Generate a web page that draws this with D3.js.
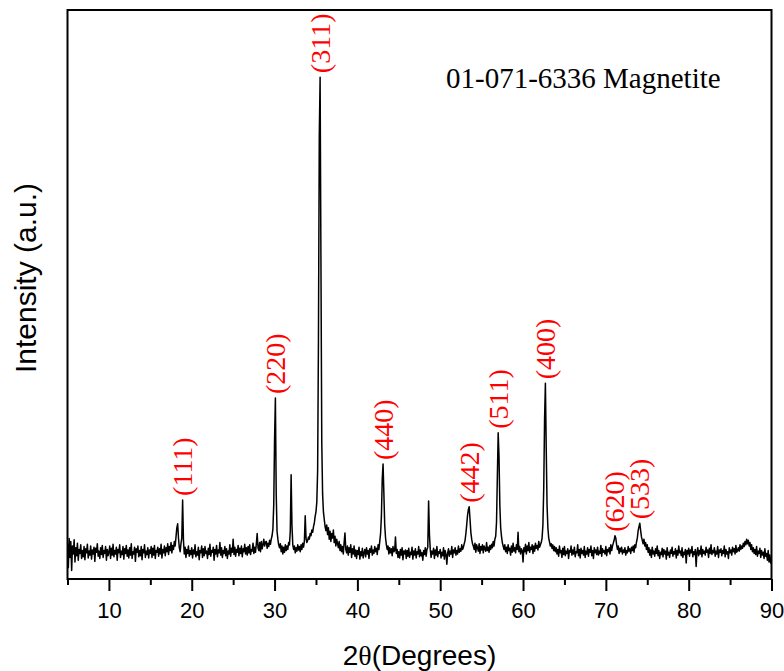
<!DOCTYPE html>
<html>
<head>
<meta charset="utf-8">
<script src="https://cdn.jsdelivr.net/npm/d3@7"></script>
<style>
  html, body { margin: 0; padding: 0; background: #fff; }
  svg { display: block; }
</style>
</head>
<body>
<svg id="chart" width="784" height="671"></svg>
<script>
// XRD scan, 0.1° step, split in 5° blocks (counts, arbitrary units)
const scanStep = 0.1;
const seg05 = [62,20,71,38,66,15,58,44,69,30, 55,41,63,33,52,45,60,36,50,39, 57,34,53,46,61,37,49,42,58,35, 51,44,56,31,54,47,62,40,49,36, 55,43,59,38,50,45,57,33,52,41];
const seg10 = [47,58,36,54,42,61,39,50,44,56, 33,52,46,60,38,49,43,57,35,53, 45,59,40,51,37,55,42,62,36,48, 44,56,31,53,47,58,39,50,41,57, 34,52,46,60,38,49,43,55,37,51];
const seg15 = [45,57,38,54,42,59,36,50,47,56, 40,53,44,61,37,52,46,58,41,55, 48,62,43,57,50,64,46,59,52,66, 58,74,90,97,72,55,48,62,72,139, 68,44,56,38,52,45,58,40,50,43];
const seg20 = [55,37,51,44,60,39,48,42,56,34, 50,46,58,38,53,41,57,45,49,36, 54,43,61,40,50,47,56,33,52,44, 59,39,51,46,64,42,55,38,50,45, 57,41,53,36,49,44,60,40,54,47];
const seg25 = [70,43,56,40,52,47,59,41,54,45, 58,39,53,48,61,44,55,42,57,46, 60,43,52,49,63,45,56,47,62,80, 55,50,64,48,66,53,60,70,58,65, 66,54,63,57,68,61,70,76,88,130];
const seg30 = [245,318,150,84,70,60,55,62,48,58, 44,56,47,60,50,58,52,64,60,85, 183,95,60,52,58,46,55,49,60,51, 57,48,60,52,63,56,66,111,72,64, 68,74,70,80,76,86,82,92,98,110];
const seg35 = [118,135,190,420,780,882,560,240,150,118, 105,92,85,95,78,90,70,84,66,80, 72,86,64,75,58,70,62,55,66,50, 60,48,57,44,64,81,52,46,58,42, 55,47,60,38,53,44,58,40,51,36];
const seg40 = [50,43,56,35,48,41,54,37,46,52, 39,55,44,50,36,53,47,58,42,51, 45,57,48,54,43,60,52,66,80,110, 175,202,150,95,72,60,52,58,44,55, 46,53,41,57,48,50,74,45,52,38];
const seg45 = [48,37,52,42,55,34,49,44,51,36, 50,40,54,38,47,43,56,35,49,42, 53,37,48,44,57,39,51,41,46,33, 50,43,55,40,52,56,137,78,52,38, 49,44,54,36,51,42,57,39,48,45];
const seg50 = [52,37,47,41,55,35,50,43,26,46, 53,40,49,44,57,38,51,46,55,42, 50,44,58,47,53,49,60,52,56,62, 68,80,95,112,122,127,105,82,70,62, 58,52,63,47,60,55,49,62,45,57];
const seg55 = [51,60,46,58,53,49,64,50,56,47, 59,52,61,55,66,58,70,75,100,180, 257,215,130,90,75,64,58,52,60,48, 56,45,60,50,54,42,58,47,63,49, 55,46,60,52,82,48,57,44,53,50];
const seg60 = [30,55,48,61,44,58,50,64,47,56, 52,60,45,58,49,63,54,59,51,66, 56,60,64,72,95,160,280,344,230,130, 90,72,65,58,62,54,60,50,57,48, 55,44,52,40,58,46,50,38,54,43];
const seg65 = [57,41,49,45,53,36,50,47,58,42, 51,44,56,39,48,46,60,41,52,37, 54,45,50,42,57,38,49,44,55,40, 52,47,58,41,50,36,55,46,51,43, 56,42,49,45,59,40,53,47,50,44];
const seg70 = [57,41,52,48,55,44,60,50,58,63, 68,76,72,60,52,58,45,54,48,56, 44,51,47,55,42,50,46,57,49,53, 45,56,50,58,47,60,55,65,72,85, 92,98,85,74,68,62,70,58,64,52];
const seg75 = [60,47,55,42,51,38,56,44,49,40, 53,45,58,41,50,36,47,43,54,39, 52,44,49,35,55,42,47,38,51,45, 56,40,48,44,53,37,50,42,58,46, 49,41,55,38,47,43,52,28,50,44];
const seg80 = [54,40,51,46,57,39,48,43,52,22, 47,55,41,50,44,58,39,52,45,49, 42,56,47,51,38,54,45,60,43,50, 46,55,40,49,44,57,38,51,47,53, 41,50,45,58,39,52,44,48,36,55];
const seg85 = [46,51,42,56,48,53,44,59,47,50, 55,49,60,52,58,54,63,57,66,60, 70,62,68,58,64,52,60,48,55,45, 52,43,57,40,49,45,54,38,50,42, 47,36,53,40,45,33,50,30,42,28, 35];

const segmentStarts = [5, 10, 15, 20, 25, 30, 35, 40, 45, 50, 55, 60, 65, 70, 75, 80, 85];
const segments = [seg05, seg10, seg15, seg20, seg25, seg30, seg35, seg40, seg45, seg50, seg55, seg60, seg65, seg70, seg75, seg80, seg85];

// Miller indices and their reflection angles (2θ, degrees)
const peakLabels = ["(111)", "(220)", "(311)", "(440)", "(442)", "(511)", "(400)", "(620)", "(533)"];
const peakAngles = [18.9, 30.1, 35.5, 43.1, 53.5, 57.0, 62.7, 71.1, 74.1];

const xMajorTicks = [10, 20, 30, 40, 50, 60, 70, 80, 90];
const xMinorTicks = [5, 15, 25, 35, 45, 55, 65, 75, 85];
const phaseNote = "01-071-6336 Magnetite";

// ---------------------------------------------------------------
const points = segments.flatMap((vals, k) =>
  vals.map((v, i) => ({ t: +(segmentStarts[k] + i * scanStep).toFixed(2), v }))
);

const plot = { left: 67.5, right: 771.5, top: 10, bottom: 579 };
const x = d3.scaleLinear().domain([5, 90]).range([plot.left, plot.right]);
const y = d3.scaleLinear().domain([0, 1000]).range([plot.bottom, plot.top]);

const svg = d3.select("#chart");
const sans = "'Liberation Sans', Arial, sans-serif";
const serif = "'Liberation Serif', 'Times New Roman', serif";

svg.append("defs").append("clipPath").attr("id", "plotClip")
  .append("rect")
  .attr("x", plot.left).attr("y", plot.top)
  .attr("width", plot.right - plot.left).attr("height", plot.bottom - plot.top);

// diffraction pattern
const line = d3.line().x(d => x(d.t)).y(d => y(d.v));
svg.append("path")
  .datum(points)
  .attr("clip-path", "url(#plotClip)")
  .attr("fill", "none")
  .attr("stroke", "#000")
  .attr("stroke-width", 1.5)
  .attr("stroke-linejoin", "round")
  .attr("d", line);

// hkl labels above each reflection
const peakTop = t => d3.max(points.filter(p => Math.abs(p.t - t) <= 0.15), p => p.v);
svg.append("g").selectAll("text")
  .data(peakLabels.map((lab, i) => ({ lab, t: peakAngles[i] })))
  .join("text")
  .attr("transform", d => `translate(${x(d.t)},${y(peakTop(d.t)) - 4}) rotate(-90)`)
  .attr("dy", "0.34em")
  .attr("text-anchor", "start")
  .attr("font-family", serif)
  .attr("font-size", 28)
  .attr("fill", "#ff0000")
  .text(d => d.lab);

// reference card note
svg.append("text")
  .attr("x", 446).attr("y", 88)
  .attr("font-family", serif)
  .attr("font-size", 29)
  .attr("fill", "#000")
  .text(phaseNote);

// frame
svg.append("rect")
  .attr("x", plot.left).attr("y", plot.top)
  .attr("width", plot.right - plot.left).attr("height", plot.bottom - plot.top)
  .attr("fill", "none").attr("stroke", "#000").attr("stroke-width", 2);

// bottom axis: major + minor ticks
const gMajor = svg.append("g")
  .attr("transform", `translate(0,${plot.bottom})`)
  .call(d3.axisBottom(x).tickValues(xMajorTicks).tickSize(12).tickSizeOuter(0).tickFormat(d3.format("d")));
gMajor.select(".domain").remove();
gMajor.selectAll(".tick line").attr("stroke", "#000").attr("stroke-width", 2);
gMajor.selectAll(".tick text")
  .attr("y", 39).attr("dy", null)
  .attr("font-family", sans).attr("font-size", 22).attr("fill", "#000");

const gMinor = svg.append("g")
  .attr("transform", `translate(0,${plot.bottom})`)
  .call(d3.axisBottom(x).tickValues(xMinorTicks).tickSize(6).tickSizeOuter(0).tickFormat(""));
gMinor.select(".domain").remove();
gMinor.selectAll(".tick line").attr("stroke", "#000").attr("stroke-width", 2);

// axis titles
const xt = svg.append("text")
  .attr("x", (plot.left + plot.right) / 2).attr("y", 665)
  .attr("text-anchor", "middle")
  .attr("font-family", sans).attr("font-size", 28).attr("fill", "#000");
xt.append("tspan").text("2");
xt.append("tspan").attr("font-family", serif).text("θ");
xt.append("tspan").text("(Degrees)");

svg.append("text")
  .attr("transform", "translate(36,278) rotate(-90)")
  .attr("text-anchor", "middle")
  .attr("font-family", sans).attr("font-size", 30).attr("fill", "#000")
  .text("Intensity (a.u.)");
</script>
</body>
</html>
